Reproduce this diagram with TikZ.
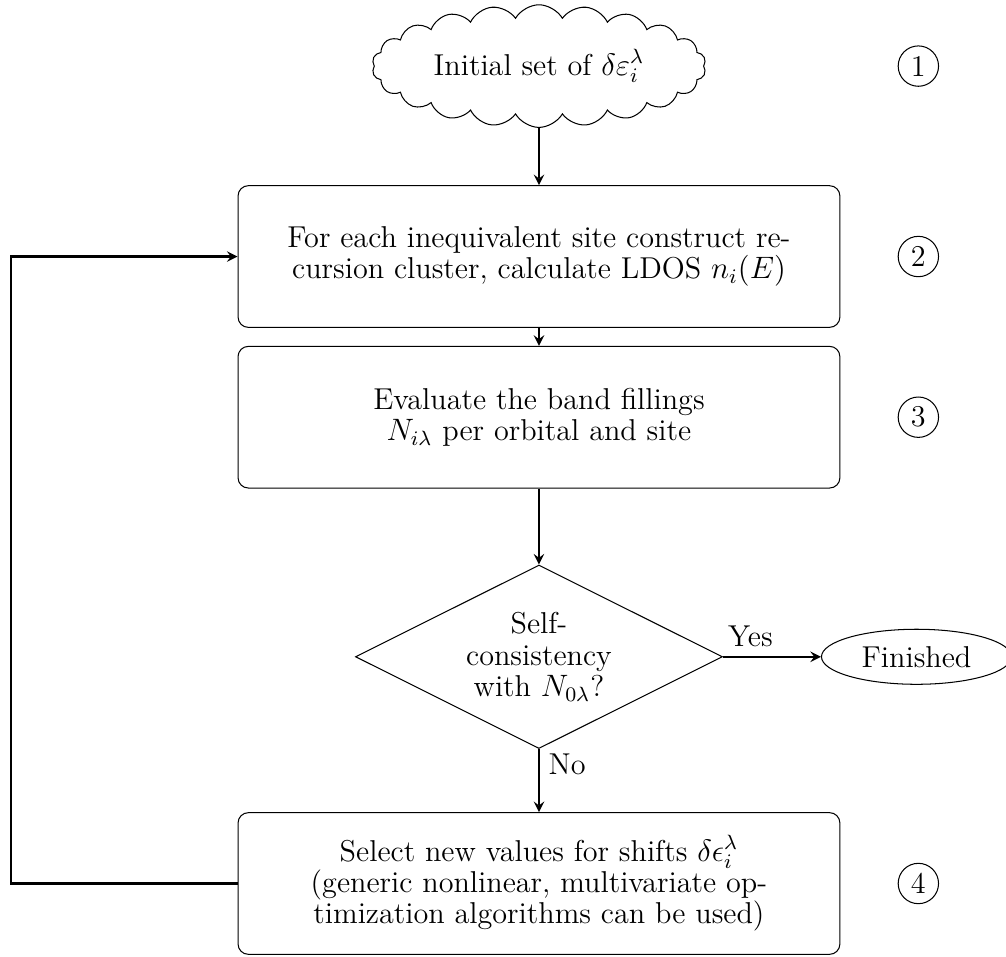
\documentclass[tikz,border=0pt]{standalone}
\usepackage{amssymb}
\usepackage{amsmath}
\usepackage{tikz}
\usetikzlibrary{shapes.geometric}
\usetikzlibrary{shapes.symbols}
\usetikzlibrary{positioning}

\begin{document}
\begin{tikzpicture}
    [
    font=\fontsize{11.7}{12.2}\selectfont,
    block/.style={rectangle,draw,rounded corners,align=center,minimum width=8.2cm,minimum height=1.93cm},
    decision/.style={diamond,draw,align=center,shape aspect=2,inner sep=0pt,minimum width=5cm,minimum height=2.5cm},
    startcloud/.style={cloud,draw,cloud puffs=22,cloud puff arc=120,aspect=3,inner sep=0pt,minimum width=4.55cm,minimum height=1.65cm},
    stopnode/.style={ellipse,draw,minimum width=2.59cm,minimum height=0.75cm},
    stepnum/.style={circle,draw,inner sep=0pt,minimum size=5.5mm}
    ]
    \useasboundingbox (0,0) rectangle (13.706,-13.025);
    % main column
    \node[block] (update) at (7.343,-3.495)
        {For each inequivalent site construct re-\\cursion cluster, calculate LDOS $n_i(E)$};
    \node[startcloud,above=0.78cm of update] (init) {Initial set of $\delta\varepsilon_i^\lambda$};
    \node[block,below=0.245cm of update] (fill)
        {Evaluate the band fillings\\$N_{i\lambda}$ per orbital and site};
    \node[decision,below=1.035cm of fill] (check)
        {Self-\\consistency\\with $N_{0\lambda}$?};
    \node[stopnode,right=1.335cm of check] (done) {Finished};
    \node[block,below=0.86cm of check] (shift)
        {Select new values for shifts $\delta\epsilon_i^\lambda$\\(generic nonlinear, multivariate op-\\timization algorithms can be used)};
    % step numbers
    \node[stepnum,right=0.78cm of update] (n2) {2};
    \node[stepnum] (n1) at (n2 |- init) {1};
    \node[stepnum,right=0.78cm of fill] (n3) {3};
    \node[stepnum,right=0.78cm of shift] (n4) {4};
    \path[-stealth,thick]
        (init) edge (update)
        (update) edge (fill)
        (fill) edge (check)
        (check) edge node[above,pos=0.28] {Yes} (done)
                edge node[right,pos=0.25] {No} (shift)
    ;
    \draw[-stealth,thick] (shift.west) -- ++(-3.09,0) |- (update.west);
\end{tikzpicture}
\end{document}
